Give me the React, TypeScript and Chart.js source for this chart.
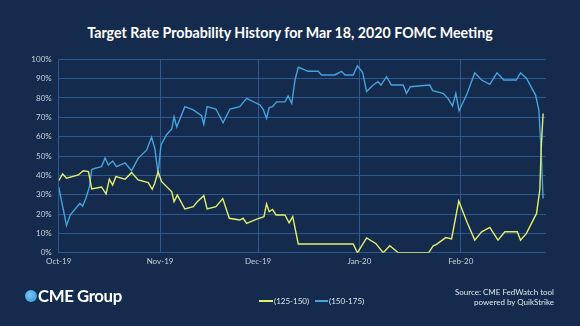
import React, { useEffect, useRef } from "react";
import { Chart, registerables } from "chart.js";

Chart.register(...registerables);

// Days since Oct 1, 2019
const monthTicks = [0, 31, 61, 92, 123];
const monthLabels = ["Oct-19", "Nov-19", "Dec-19", "Jan-20", "Feb-20"];

const lowDays = [0, 1.2, 2.4, 6, 7.5, 9.1, 10.1, 13.1, 14.5, 15.5, 16.5, 17.5, 20.3, 22.3, 24.3, 27.4, 28.6, 29.4, 30.4, 31.5, 34.6, 35.3, 36.3, 38.6, 41.2, 42.4, 44.4, 45.4, 48.1, 50.2, 52.2, 55.4, 56.4, 57.5, 60.6, 62.8, 63.6, 64.4, 65.4, 66.5, 69.2, 70.5, 71.6, 73.3, 90.1, 91.4, 94.2, 97, 99.3, 101.3, 103.9, 113.2, 114.6, 115.6, 118.4, 120.2, 122.4, 125, 127.3, 129.4, 131.9, 134.4, 136.5, 140.3, 141.3, 143.1, 146.2, 147.2, 147.6, 148.2];
const lowValues = [37.2, 40.7, 38.5, 40.2, 42.4, 41.9, 33, 34, 30.4, 38, 35, 39.3, 38, 41.4, 37.6, 36.2, 32.8, 35.9, 41.9, 36.7, 31.5, 26.4, 29.8, 22.6, 23.8, 26.4, 29.5, 22.6, 23.8, 28, 17.8, 16.9, 17.8, 15.2, 17.4, 18.6, 25.2, 21.2, 22.4, 19.5, 19.5, 15.5, 18.6, 4.5, 4.5, 0, 7.6, 4.8, 0, 3.6, 0, 0, 3.6, 4.3, 7.8, 7.1, 26.7, 15.5, 6.5, 10.8, 13.1, 6.5, 10.8, 10.8, 6.5, 10, 20.3, 32.4, 53, 72];

const highDays = [0, 2.4, 3.5, 6.5, 7.3, 8.3, 9.4, 10.1, 11.1, 13.1, 14.2, 15.2, 16.5, 17.7, 20.3, 22.3, 24.3, 26.9, 28.4, 29.4, 30.4, 31.3, 33, 34.6, 35.3, 36.1, 38.6, 41.2, 43.7, 44.4, 45.4, 48.1, 50.3, 52.4, 55.4, 57.5, 61.6, 62.6, 63.6, 64.4, 65.4, 66.7, 69.2, 70.2, 71.3, 72.3, 73.3, 75.3, 76.3, 79.4, 80.4, 84.5, 86.5, 87.6, 90.1, 91.4, 93, 94.2, 96.2, 97.7, 98.6, 100.3, 101.8, 105.4, 106.4, 107.6, 113.5, 114.4, 117.6, 119.1, 120.5, 121.5, 122.5, 125, 127.3, 129.4, 131.9, 134.1, 136.2, 140, 141.3, 143.1, 145.9, 146.9, 147.6, 148.2];
const highValues = [34, 14, 19.5, 25.5, 24, 28, 34, 43, 43.6, 44.5, 49, 45.3, 47.4, 44.5, 46.5, 42.4, 48.8, 53, 59.7, 54, 41, 55.7, 61, 64, 70.3, 65, 75.5, 73.8, 70.8, 66.4, 75.5, 74.3, 67.2, 74.3, 75.5, 79.8, 76.4, 74, 69.5, 75, 75.5, 78, 78, 81, 77.2, 89.3, 95.9, 94.5, 93.8, 93.8, 91.9, 91.9, 93.8, 91.9, 91.9, 96.6, 93.2, 83.3, 86.7, 88.4, 86.7, 91, 86.7, 86.7, 82.4, 85.8, 86.7, 83.8, 82.4, 79.8, 75.9, 82.4, 73.4, 82.4, 93, 89.3, 87, 93, 89.3, 89.3, 93, 90.2, 81.5, 73.8, 53, 28];

const seriesNames = ["(125-150)", "(150-175)"];
const YELLOW = "#e3ef6c";
const BLUE = "#46a3dc";
const BG = "#142b4d";
const GRID = "#2a5a90";
const FONT = "Lato, 'Open Sans', sans-serif";

export default function App() {
  const ref = useRef<HTMLCanvasElement>(null);
  useEffect(() => {
    document.body.style.margin = "0";
    const ctx = ref.current!;
    const chart = new Chart(ctx, {
      type: "line",
      data: {
        datasets: [
          {
            label: seriesNames[0],
            data: lowDays.map((d, i) => ({ x: d, y: lowValues[i] })),
            borderColor: YELLOW,
            borderWidth: 1.4,
            pointRadius: 0,
            tension: 0,
          },
          {
            label: seriesNames[1],
            data: highDays.map((d, i) => ({ x: d, y: highValues[i] })),
            borderColor: BLUE,
            borderWidth: 1.4,
            pointRadius: 0,
            tension: 0,
          },
        ],
      },
      options: {
        animation: false,
        responsive: false,
        maintainAspectRatio: false,
        layout: { padding: { left: 0, top: 59.3, right: 34.3, bottom: 53.3 } },
        plugins: { legend: { display: false }, tooltip: { enabled: false }, title: { display: false } },
        scales: {
          x: {
            type: "linear",
            min: 0,
            max: 149,
            afterBuildTicks: (scale: any) => {
              scale.ticks = monthTicks.map((v) => ({ value: v }));
            },
            afterFit: (scale: any) => {
              scale.height = 20;
            },
            ticks: {
              autoSkip: false,
              maxRotation: 0,
              padding: 4,
              color: "#c9d2de",
              font: { family: FONT, size: 8 },
              callback: (v: any) => {
                const i = monthTicks.indexOf(Number(v));
                return i >= 0 ? monthLabels[i] : "";
              },
            },
            grid: { color: GRID, lineWidth: 1, drawTicks: false },
            border: { display: false },
          },
          y: {
            min: 0,
            max: 100,
            afterFit: (scale: any) => {
              scale.width = 58.7;
            },
            ticks: {
              stepSize: 10,
              padding: 7,
              color: "#c9d2de",
              font: { family: FONT, size: 8 },
              callback: (v: any) => v + "%",
            },
            grid: { color: GRID, lineWidth: 1, drawTicks: false },
            border: { display: false },
          },
        },
      },
    });
    return () => chart.destroy();
  }, []);

  return (
    <div style={{ position: "relative", width: 580, height: 326, background: BG, overflow: "hidden", fontFamily: FONT }}>
      <div style={{ position: "absolute", left: 0, top: 23, width: 580, textAlign: "center", color: "#ffffff", fontWeight: 700, fontSize: 14.2, lineHeight: "20px" }}>
        Target Rate Probability History for Mar 18, 2020 FOMC Meeting
      </div>
      <canvas ref={ref} width={580} height={326} style={{ position: "absolute", left: 0, top: 0, width: 580, height: 326 }} />
      <div style={{ position: "absolute", left: 25, top: 290, width: 12, height: 12, borderRadius: "50%", background: "radial-gradient(circle at 40% 40%, #7cc8f2, #2a8fd6)" }} />
      <div style={{ position: "absolute", left: 38, top: 285, color: "#ffffff", fontWeight: 700, fontSize: 16.8, lineHeight: "22px", letterSpacing: -0.4 }}>
        CME Group
      </div>
      <div style={{ position: "absolute", left: 259, top: 295, display: "flex", alignItems: "center", color: "#dfe5ee", fontSize: 8, lineHeight: "12px" }}>
        <span style={{ display: "inline-block", width: 14, height: 2, background: YELLOW, marginRight: 1 }} />
        <span>{seriesNames[0]}</span>
        <span style={{ display: "inline-block", width: 13, height: 2, background: BLUE, marginLeft: 6, marginRight: 1 }} />
        <span>{seriesNames[1]}</span>
      </div>
      <div style={{ position: "absolute", right: 26, top: 288, textAlign: "right", color: "#dfe5ee", fontSize: 8, lineHeight: "9.5px" }}>
        Source: CME FedWatch tool
        <br />
        powered by QuikStrike
      </div>
    </div>
  );
}
